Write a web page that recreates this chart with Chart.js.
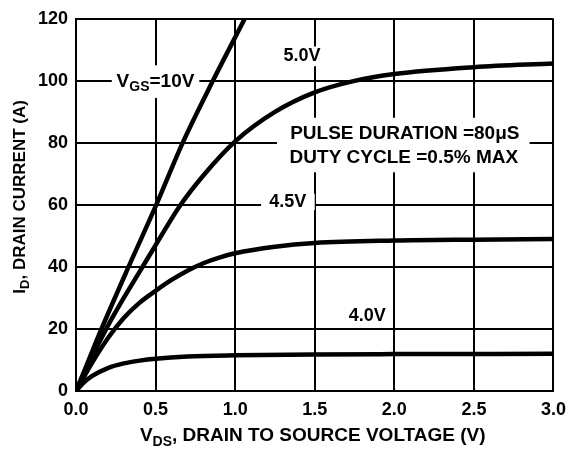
<!DOCTYPE html>
<html><head><meta charset="utf-8">
<script src="https://cdn.jsdelivr.net/npm/chart.js@4/dist/chart.umd.min.js"></script>
<style>html,body{margin:0;padding:0;background:#fff}canvas{display:block}</style>
</head><body>
<canvas id="c" width="574" height="449"></canvas>
<script>
// Data (VDS in volts, ID in amps)
const v10 = [0, 0.08, 0.16, 0.33, 0.5, 0.67, 0.86, 1.06, 1.12];
const i10 = [0, 10, 20, 40, 59.5, 80, 100, 120, 126];
const v50 = [0, 0.1, 0.2, 0.3, 0.4, 0.5, 0.65, 0.8, 1.0, 1.25, 1.5, 1.75, 2.0, 2.5, 3.0];
const i50 = [0, 11, 21, 30, 38.5, 47, 59.5, 69.5, 80.5, 90, 96.3, 100, 102.2, 104.4, 105.6];
const v45 = [0, 0.1, 0.2, 0.3, 0.4, 0.5, 0.6, 0.7, 0.8, 0.9, 1.0, 1.25, 1.5, 2.0, 2.5, 3.0];
const i45 = [0, 9, 17, 23.5, 28.5, 32.3, 35.8, 38.8, 41.2, 43.0, 44.4, 46.5, 47.7, 48.5, 48.8, 49];
const v40 = [0, 0.05, 0.1, 0.2, 0.3, 0.4, 0.5, 0.7, 1.0, 1.5, 2.0, 3.0];
const i40 = [0, 2.8, 4.8, 7.4, 8.9, 9.8, 10.4, 11.1, 11.5, 11.8, 11.9, 12];
const xTicks = [0, 0.5, 1.0, 1.5, 2.0, 2.5, 3.0];
const yTicks = [0, 20, 40, 60, 80, 100, 120];

const FONT = '"Liberation Sans", Arial, sans-serif';
const pts = (xs, ys) => xs.map((x, k) => ({x: x, y: ys[k]}));
const ds = (label, xs, ys) => ({label, data: pts(xs, ys), borderColor: '#000', borderWidth: 4.5,
  pointRadius: 0, tension: 0.4, cubicInterpolationMode: 'monotone', fill: false});

// Label annotations in data coordinates
const boxes = [
  {x0: 0.225, x1: 0.775, y0: 94.5, y1: 105},
  {x0: 1.275, x1: 1.569, y0: 104.7, y1: 111.1},
  {x0: 1.163, x1: 1.5, y0: 58.3, y1: 63.6},
  {x0: 1.2625, x1: 2.85, y0: 70.5, y1: 88.1}
];
const labels = [
  {parts: [['V', 0], ['GS', 1], ['=10V', 0]], x: 0.255, y: 99.7, align: 'left', size: 19},
  {parts: [['5.0V', 0]], x: 1.42, y: 107.9, align: 'center', size: 18},
  {parts: [['4.5V', 0]], x: 1.33, y: 61, align: 'center', size: 18},
  {parts: [['4.0V', 0]], x: 1.83, y: 24.3, align: 'center', size: 18},
  {parts: [['PULSE DURATION =80\u03bcS', 0]], x: 2.066, y: 82.8, align: 'center', size: 19},
  {parts: [['DUTY CYCLE =0.5% MAX', 0]], x: 2.06, y: 75.3, align: 'center', size: 19}
];

function drawParts(ctx, parts, x, y, align, size) {
  const big = 'bold ' + size + 'px ' + FONT;
  const small = 'bold ' + Math.round(size * 0.74) + 'px ' + FONT;
  let w = 0;
  parts.forEach(p => { ctx.font = p[1] ? small : big; w += ctx.measureText(p[0]).width; });
  let cx = align === 'center' ? x - w / 2 : x;
  ctx.textBaseline = 'middle';
  ctx.textAlign = 'left';
  ctx.fillStyle = '#000';
  parts.forEach(p => {
    ctx.font = p[1] ? small : big;
    ctx.fillText(p[0], cx, p[1] ? y + size * 0.3 : y);
    cx += ctx.measureText(p[0]).width;
  });
}

const annot = {
  id: 'annot',
  beforeDatasetsDraw(chart) {
    const {ctx, scales: {x, y}} = chart;
    ctx.save();
    ctx.fillStyle = '#fff';
    boxes.forEach(b => {
      const l = x.getPixelForValue(b.x0), r = x.getPixelForValue(b.x1);
      const t = y.getPixelForValue(b.y1), bt = y.getPixelForValue(b.y0);
      ctx.fillRect(l, t, r - l, bt - t);
    });
    ctx.restore();
  },
  afterDraw(chart) {
    const {ctx, scales: {x, y}, chartArea: ca} = chart;
    ctx.save();
    labels.forEach(L => drawParts(ctx, L.parts, x.getPixelForValue(L.x), y.getPixelForValue(L.y), L.align, L.size));
    // axis titles with subscripts
    drawParts(ctx, [['V', 0], ['DS', 1], [', DRAIN TO SOURCE VOLTAGE (V)', 0]], (ca.left + ca.right) / 2 - 2, 436, 'center', 19);
    ctx.translate(20, (ca.top + ca.bottom) / 2 - 8);
    ctx.rotate(-Math.PI / 2);
    drawParts(ctx, [['I', 0], ['D', 1], [', DRAIN CURRENT (A)', 0]], 0, 0, 'center', 17);
    ctx.restore();
  }
};

new Chart(document.getElementById('c'), {
  type: 'line',
  data: {datasets: [ds('VGS=10V', v10, i10), ds('5.0V', v50, i50), ds('4.5V', v45, i45), ds('4.0V', v40, i40)]},
  options: {
    responsive: false, animation: false,
    layout: {padding: {top: 15, right: 19, left: 0, bottom: 0}},
    plugins: {legend: {display: false}, tooltip: {enabled: false}},
    scales: {
      x: {type: 'linear', min: 0, max: 3,
        afterBuildTicks: s => { s.ticks = xTicks.map(v => ({value: v})); },
        afterFit: s => { s.height = 58; },
        ticks: {color: '#000', padding: 8, font: {family: FONT, size: 18, weight: 'bold'}, callback: v => Number(v).toFixed(1)},
        grid: {color: '#000', lineWidth: 2, drawTicks: false},
        border: {color: '#000', width: 2}},
      y: {type: 'linear', min: 0, max: 120,
        afterBuildTicks: s => { s.ticks = yTicks.map(v => ({value: v})); },
        afterFit: s => { s.width = 76; },
        ticks: {color: '#000', padding: 8, font: {family: FONT, size: 18, weight: 'bold'}},
        grid: {color: '#000', lineWidth: 2, drawTicks: false},
        border: {color: '#000', width: 2}}
    }
  },
  plugins: [annot]
});
</script>
</body></html>
